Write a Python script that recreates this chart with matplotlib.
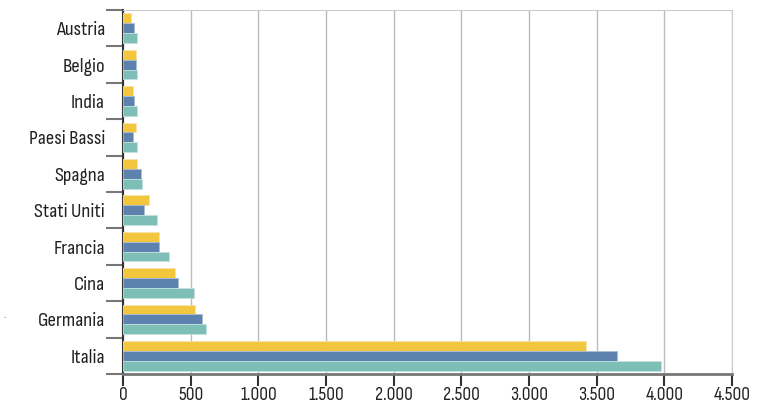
import numpy as np
import matplotlib.pyplot as plt

# dati
paesi = ["Italia", "Germania", "Cina", "Francia", "Stati Uniti",
         "Spagna", "Paesi Bassi", "India", "Belgio", "Austria"]
serie_gialla = [3422, 532, 385, 267, 189, 104, 96, 72, 96, 62]
serie_blu = [3649, 586, 409, 267, 152, 136, 77, 84, 96, 84]
serie_verde = [3975, 615, 527, 343, 250, 143, 104, 100, 100, 100]
xticks = [0, 500, 1000, 1500, 2000, 2500, 3000, 3500, 4000, 4500]

plt.rcParams['font.family'] = ["Sofia Sans Condensed", "DejaVu Sans"]

fig = plt.figure(figsize=(7.68, 4.04), dpi=100)
ax = fig.add_axes([123/768, 1-374/404, (732-123)/768, (374-10)/404])

y = np.arange(len(paesi))
h = 0.27
ax.barh(y + h, serie_gialla, height=h, color="#F2C63F", edgecolor="#f7e4a8", linewidth=0.6, zorder=3)
ax.barh(y, serie_blu, height=h, color="#5E82AE", edgecolor="#a9bdd5", linewidth=0.6, zorder=3)
ax.barh(y - h, serie_verde, height=h, color="#7DBFB6", edgecolor="#c3e2dd", linewidth=0.6, zorder=3)

ax.set_xlim(0, 4500)
ax.set_ylim(-0.5, len(paesi) - 0.5)
ax.set_xticks(xticks)
ax.set_xticklabels([f"{v:,}".replace(",", ".") for v in xticks], fontsize=14, color="#222222")
ax.set_yticks(y)
ax.set_yticklabels(paesi, fontsize=15, color="#222222")
ax.set_yticks(np.arange(-0.5, len(paesi), 1), minor=True)
ax.tick_params(axis="y", which="major", length=0, pad=13)
ax.tick_params(axis="y", which="minor", length=12, width=1.5, color="#777777")
ax.tick_params(axis="x", length=8.5, width=1.5, color="#333333", pad=0.5)

ax.grid(axis="x", color="#bbbbbb", linewidth=1, zorder=0)
ax.spines["left"].set_color("#333333")
ax.spines["left"].set_linewidth(1.5)
ax.spines["bottom"].set_color("#777777")
ax.spines["bottom"].set_linewidth(2)
ax.spines["top"].set_color("#cccccc")
ax.spines["right"].set_color("#cccccc")

fig.text(3/768, 1-318/404, ".", fontsize=8, color="#444444")

fig.savefig("out.png", dpi=100)
